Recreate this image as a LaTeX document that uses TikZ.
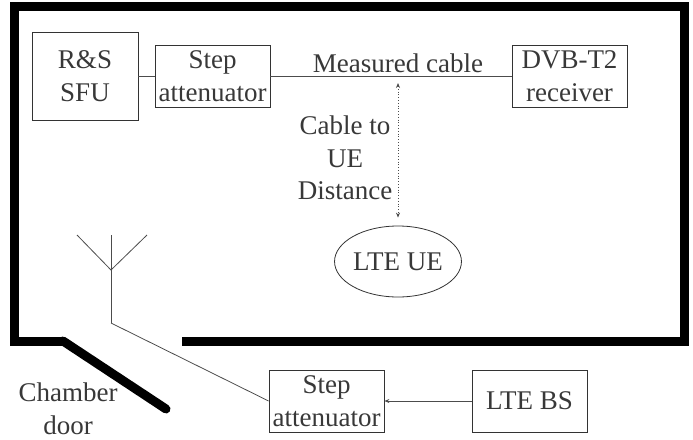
\documentclass[tikz,border=0pt]{standalone}
\usepackage{fontspec}
\setmainfont{Liberation Serif}
\usetikzlibrary{shapes.geometric,arrows.meta}
\begin{document}
\begin{tikzpicture}[x=1pt,y=-1pt,
  txt/.style={text=black!78,font=\fontsize{27}{32.5}\selectfont,align=center,inner sep=0pt},
  blk/.style={txt,draw=black!80,line width=0.8pt,rectangle},
  wire/.style={draw=black!70,line width=0.8pt},
  wall/.style={draw=black,line width=9pt},
  tip/.style={-{Stealth[length=5pt,width=4pt]}}]
\useasboundingbox (0,0) rectangle (693,439);
% chamber walls
\draw[wall,line cap=butt] (63,341) -- (14.5,341) -- (14.5,6) -- (684,6) -- (684,341) -- (182,341);
\draw[wall,line cap=round] (63,341) -- (166,409);
% boxes
\node[blk,minimum width=106,minimum height=88] (sfu) at (85,76) {R\&S\\SFU};
\node[blk,minimum width=115,minimum height=62] (att1) at (212.5,76) {Step\\attenuator};
\node[blk,minimum width=115,minimum height=62] (dvb) at (569.5,76) {DVB-T2\\receiver};
\node[blk,minimum width=115,minimum height=62] (att2) at (326.5,401) {Step\\attenuator};
\node[blk,minimum width=115,minimum height=62] (bs) at (529.5,401) {LTE BS};
\node[blk,ellipse,minimum width=108,minimum height=71] (ue) at (398,261.5) {LTE UE};
% labels
\node[txt,anchor=south] (mc) at (398,73) {Measured cable};
\node[txt] (dist) at (345,158) {Cable to\\UE\\Distance};
\node[txt] (door) at (68,409) {Chamber\\door};
% cables
\draw[wire] (sfu) -- (att1);
\draw[wire] (att1) -- (dvb);
\coordinate (cab) at (398,76);
\draw[draw=black!70,line width=0.8pt,dotted,{Stealth[length=5pt,width=4pt]}-{Stealth[length=5pt,width=4pt]},shorten <=7pt,shorten >=8pt] (cab) -- (ue.north);
% antenna
\coordinate (antbase) at (111,323);
\coordinate (antfeed) at (111,270);
\coordinate (anttop) at (111,235);
\coordinate (antl) at (77,235);
\coordinate (antr) at (147,235);
\draw[wire] (antbase) -- (anttop);
\draw[wire] (antl) -- (antfeed) -- (antr);
\draw[wire] (antbase) -- (att2.west);
\draw[wire,tip] (bs) -- (att2);
\end{tikzpicture}
\end{document}
